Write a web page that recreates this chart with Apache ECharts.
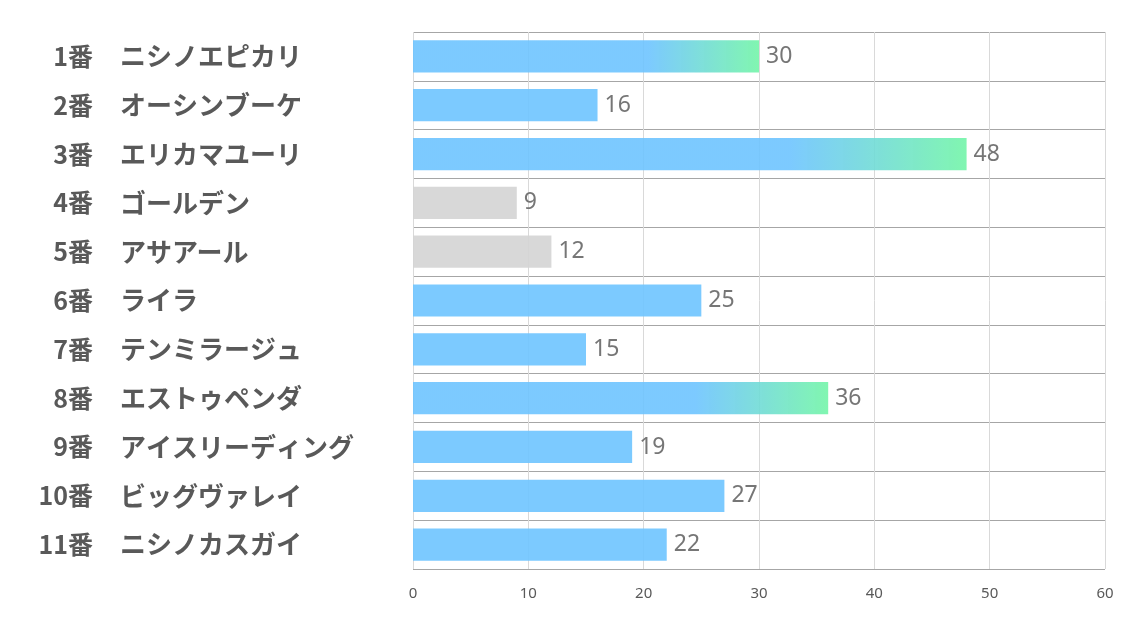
<!DOCTYPE html>
<html><head><meta charset="utf-8">
<script src="https://cdn.jsdelivr.net/npm/echarts@6/dist/echarts.min.js"></script>
<style>html,body{margin:0;padding:0;background:#fff}#c{width:1134px;height:623px}</style>
</head><body><div id="c"></div>
<script>
const numbers = ['1番','2番','3番','4番','5番','6番','7番','8番','9番','10番','11番'];
const names = ['ニシノエピカリ','オーシンブーケ','エリカマユーリ','ゴールデン','アサアール','ライラ','テンミラージュ','エストゥペンダ','アイスリーディング','ビッグヴァレイ','ニシノカスガイ'];
const values = [30, 16, 48, 9, 12, 25, 15, 36, 19, 27, 22];
const xTicks = [0, 10, 20, 30, 40, 50, 60];

const blue = 'rgba(110,196,255,0.9)';
function styleFor(v) {
  if (v >= 30) {
    return { color: { type: 'linear', x: 0, y: 0, x2: 1, y2: 0, colorStops: [
      { offset: 0, color: blue }, { offset: 0.68, color: blue }, { offset: 1, color: 'rgba(118,245,170,0.92)' } ] } };
  }
  if (v <= 12) return { color: 'rgba(212,212,212,0.9)' };
  return { color: blue };
}
const labelFont = { fontWeight: 'bold', color: '#595959', fontFamily: 'Noto Sans CJK JP' };
const chart = echarts.init(document.getElementById('c'));
chart.setOption({
  animation: false,
  grid: { left: 413, right: 29, top: 32, bottom: 54, containLabel: false },
  xAxis: {
    type: 'value', min: xTicks[0], max: xTicks[xTicks.length - 1], interval: 10,
    axisLine: { show: false }, axisTick: { show: false },
    axisLabel: { color: '#595959', fontSize: 15, margin: 17, fontFamily: 'Noto Sans' },
    splitLine: { show: true, lineStyle: { color: '#d9d9d9', width: 1 } }
  },
  yAxis: [{
    type: 'category', data: names, inverse: true, position: 'left',
    axisLine: { show: false }, axisTick: { show: false },
    splitLine: { show: true, lineStyle: { color: '#a6a6a6', width: 1 } },
    axisLabel: Object.assign({ align: 'left', margin: 293, fontSize: 26 }, labelFont)
  }, {
    type: 'category', data: numbers, inverse: true, position: 'left', offset: 0,
    axisLine: { show: false }, axisTick: { show: false }, splitLine: { show: false },
    axisLabel: Object.assign({ align: 'right', margin: 320, fontSize: 25 }, labelFont)
  }],
  series: [{
    type: 'bar', barWidth: '66%', yAxisIndex: 0,
    data: values.map(v => ({ value: v, itemStyle: styleFor(v) })),
    label: { show: true, position: 'right', distance: 7, fontSize: 23, color: '#767676', fontFamily: 'Noto Sans' }
  }]
});
</script></body></html>
